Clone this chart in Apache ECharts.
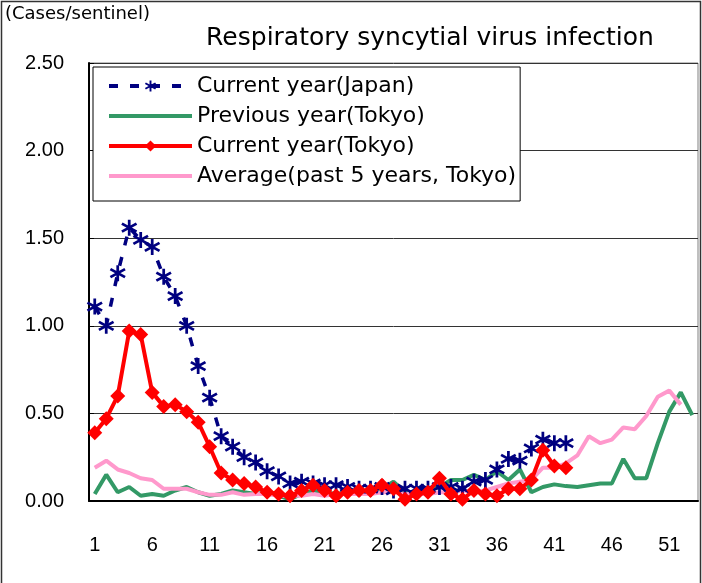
<!DOCTYPE html>
<html>
<head>
<meta charset="utf-8">
<script src="https://cdn.jsdelivr.net/npm/echarts@6/dist/echarts.min.js"></script>
<style>
  html, body { margin: 0; padding: 0; background: #fff; }
  #chart { width: 702px; height: 583px; }
</style>
</head>
<body>
<div id="chart"></div>
<script>
// weeks 1..53
var weeks = [];
for (var i = 1; i <= 53; i++) weeks.push(String(i));

var seriesNames = ['Current year(Japan)', 'Previous year(Tokyo)', 'Current year(Tokyo)', 'Average(past 5 years, Tokyo)'];

// 今年(全国)
var japanCurrent = [1.11, 1.00, 1.30, 1.56, 1.49, 1.45, 1.28, 1.17, 1.00, 0.77,
	0.59, 0.37, 0.31, 0.25, 0.22, 0.17, 0.14, 0.10, 0.11, 0.10,
	0.09, 0.09, 0.08, 0.07, 0.07, 0.08, 0.06, 0.07, 0.07, 0.07,
	0.08, 0.08, 0.07, 0.11, 0.12, 0.18, 0.24, 0.23, 0.30, 0.35,
	0.33, 0.33];

// 前年(東京)
var tokyoPrevious = [0.04, 0.15, 0.05, 0.08, 0.03, 0.04, 0.03, 0.06, 0.08, 0.05,
	0.03, 0.04, 0.06, 0.05, 0.04, 0.05, 0.03, 0.01, 0.04, 0.06,
	0.05, 0.04, 0.05, 0.05, 0.06, 0.07, 0.11, 0.05, 0.05, 0.06,
	0.08, 0.12, 0.12, 0.15, 0.12, 0.17, 0.12, 0.18, 0.05, 0.08,
	0.095, 0.085, 0.08, 0.09, 0.10, 0.10, 0.24, 0.13, 0.13, 0.33,
	0.51, 0.62, 0.49];

// 今年(東京)
var tokyoCurrent = [0.39, 0.47, 0.60, 0.97, 0.95, 0.62, 0.54, 0.55, 0.51, 0.45,
	0.31, 0.16, 0.12, 0.10, 0.08, 0.05, 0.04, 0.03, 0.06, 0.09,
	0.06, 0.03, 0.05, 0.06, 0.06, 0.09, 0.07, 0.01, 0.04, 0.05,
	0.13, 0.04, 0.01, 0.06, 0.04, 0.03, 0.07, 0.07, 0.12, 0.29,
	0.20, 0.19];

// 過去5年平均(東京)
var tokyoAverage = [0.19, 0.23, 0.18, 0.16, 0.13, 0.12, 0.07, 0.07, 0.07, 0.05,
	0.035, 0.035, 0.05, 0.035, 0.04, 0.04, 0.03, 0.03, 0.03, 0.04,
	0.03, 0.04, 0.04, 0.04, 0.04, 0.05, 0.05, 0.04, 0.04, 0.04,
	0.05, 0.05, 0.06, 0.05, 0.06, 0.08, 0.10, 0.11, 0.12, 0.19,
	0.19, 0.215, 0.26, 0.37, 0.33, 0.35, 0.42, 0.41, 0.485, 0.595,
	0.63, 0.55];

var yTicks = [0, 0.5, 1.0, 1.5, 2.0, 2.5];

var asterisk = 'path://M-1.3,-8 L1.3,-8 L1.3,8 L-1.3,8 Z' +
	' M-7.58,-2.88 L-6.28,-5.12 L7.58,2.88 L6.28,5.12 Z' +
	' M6.28,-5.12 L7.58,-2.88 L-6.28,5.12 L-7.58,2.88 Z';
var diamond = 'path://M0,-1 L1,0 L0,1 L-1,0 Z';

var FONT = 'Liberation Sans';
var WIDE = 'DejaVu Sans';

var myChart = echarts.init(document.getElementById('chart'), null, {renderer: 'canvas'});

var option = {
	animation: false,
	backgroundColor: '#fff',
	textStyle: { fontFamily: FONT, color: '#000' },
	graphic: [{
		type: 'rect',
		shape: { x: 1.5, y: 1.5, width: 699, height: 600 },
		style: { fill: 'none', stroke: '#333', lineWidth: 1.5 },
		silent: true
	}, {
		type: 'text',
		left: 5, top: 5,
		style: { text: '(Cases/sentinel)', fontSize: 18, fontFamily: WIDE, fill: '#000' }
	}],
	title: {
		text: 'Respiratory syncytial virus infection',
		left: 425, top: 21,
		textAlign: 'center',
		textStyle: { fontSize: 25, fontWeight: 'normal', color: '#000', fontFamily: WIDE }
	},
	legend: {
		orient: 'vertical',
		left: 93, top: 67,
		padding: [8, 4, 14, 14],
		itemWidth: 83, itemHeight: 14, itemGap: 8,
		backgroundColor: '#fff',
		borderColor: '#000', borderWidth: 1,
		textStyle: { fontSize: 22, lineHeight: 20, color: '#000', fontFamily: WIDE },
		data: [
			{ name: seriesNames[0], lineStyle: { width: 4 } },
			{ name: seriesNames[1], lineStyle: { width: 4 }, itemStyle: { color: 'rgba(0,0,0,0)', borderWidth: 0 } },
			{ name: seriesNames[2], lineStyle: { width: 4 } },
			{ name: seriesNames[3], lineStyle: { width: 4 }, itemStyle: { color: 'rgba(0,0,0,0)', borderWidth: 0 } }
		]
	},
	grid: { left: 89, right: 4, top: 63, bottom: 82, show: true, borderColor: '#808080', borderWidth: 1 },
	xAxis: {
		type: 'category',
		data: weeks,
		axisLine: { lineStyle: { color: '#000', width: 2 } },
		axisTick: { interval: 4, inside: true, length: 7, lineStyle: { color: '#555' } },
		axisLabel: { interval: 4, fontSize: 20, color: '#000', margin: 34 },
		splitLine: { show: false }
	},
	yAxis: {
		type: 'value',
		min: yTicks[0], max: yTicks[yTicks.length - 1], interval: 0.5,
		axisLine: { show: true, lineStyle: { color: '#000', width: 2 } },
		axisTick: { show: true, inside: true, length: 5, lineStyle: { color: '#000' } },
		axisLabel: { fontSize: 20, color: '#000', margin: 25, formatter: function (v) { return v.toFixed(2); } },
		splitLine: { lineStyle: { color: '#333', width: 1 } }
	},
	series: [{
		name: seriesNames[1],
		type: 'line',
		data: tokyoPrevious,
		symbol: 'none',
		color: '#339966',
		lineStyle: { width: 4, color: '#339966' },
		z: 2
	}, {
		name: seriesNames[3],
		type: 'line',
		data: tokyoAverage,
		symbol: 'none',
		color: '#FF99CC',
		lineStyle: { width: 4, color: '#FF99CC' },
		z: 3
	}, {
		name: seriesNames[0],
		type: 'line',
		data: japanCurrent,
		symbol: asterisk,
		symbolSize: [16, 16],
		showAllSymbol: true,
		color: '#000080',
		itemStyle: { color: '#000080', borderWidth: 0 },
		lineStyle: { width: 3.5, color: '#000080', type: [9, 12] },
		z: 4
	}, {
		name: seriesNames[2],
		type: 'line',
		data: tokyoCurrent,
		symbol: diamond,
		symbolSize: 15,
		showAllSymbol: true,
		color: '#FF0000',
		itemStyle: { color: '#FF0000', borderWidth: 0 },
		lineStyle: { width: 4, color: '#FF0000' },
		z: 5
	}]
};

myChart.setOption(option);
</script>
</body>
</html>
